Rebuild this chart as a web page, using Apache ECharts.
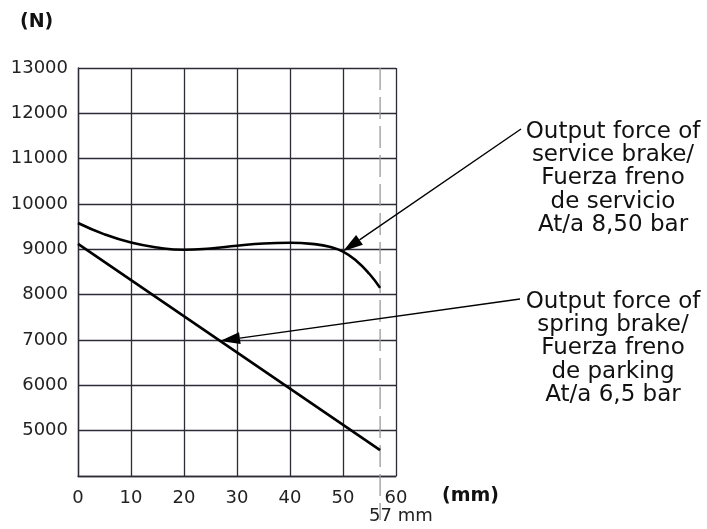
<!DOCTYPE html>
<html><head><meta charset="utf-8">
<script src="https://cdn.jsdelivr.net/npm/echarts@6/dist/echarts.min.js"></script>
<style>html,body{margin:0;padding:0;background:#fff}#c{width:707px;height:529px}</style>
</head><body><div id="c"></div>
<script>
// ---- data ----
const xTicks = [0, 10, 20, 30, 40, 50, 60];
const yTicks = [5000, 6000, 7000, 8000, 9000, 10000, 11000, 12000, 13000];
const serviceBrakeX = [0, 5, 10, 15, 20, 25, 30, 35, 40, 45, 47.5, 50, 52.5, 55, 57];
const serviceBrakeY = [9580, 9330, 9150, 9040, 8990, 9020, 9080, 9130, 9145, 9110, 9055, 8950, 8750, 8456, 8150];
const springBrakeX = [0, 57];
const springBrakeY = [9120, 4570];
const strokeLimit = 57;
const strokeLabel = '57 mm';
const yUnit = '(N)';
const xUnit = '(mm)';
const serviceLabel = ['Output force of', 'service brake/', 'Fuerza freno', 'de servicio', 'At/a 8,50 bar'];
const springLabel = ['Output force of', 'spring brake/', 'Fuerza freno', 'de parking', 'At/a 6,5 bar'];
const serviceArrowTip = [50, 8960];
const springArrowTip = [26.8, 6980];

// ---- chart ----
const FONT = '"DejaVu Sans", sans-serif';
const GRID_C = '#2c2c38';
const chart = echarts.init(document.getElementById('c'), null, {renderer: 'canvas'});
const pairs = (xs, ys) => xs.map((x, i) => [x, ys[i]]);

chart.setOption({
  animation: false,
  backgroundColor: '#fff',
  grid: {left: 78, right: 311, top: 68, bottom: 53, containLabel: false},
  xAxis: {
    type: 'value', min: xTicks[0], max: xTicks[xTicks.length - 1], interval: 10,
    axisLine: {show: true, lineStyle: {color: GRID_C, width: 1.3}},
    axisTick: {show: false},
    splitLine: {show: true, lineStyle: {color: GRID_C, width: 1.3}},
    axisLabel: {color: '#222', fontFamily: FONT, fontSize: 18, margin: 13}
  },
  yAxis: {
    type: 'value', min: 4000, max: yTicks[yTicks.length - 1], interval: 1000,
    axisLine: {show: true, lineStyle: {color: GRID_C, width: 1.3}},
    axisTick: {show: false},
    splitLine: {show: true, lineStyle: {color: GRID_C, width: 1.3}},
    axisLabel: {color: '#222', fontFamily: FONT, fontSize: 18, margin: 10,
      formatter: v => yTicks.indexOf(v) >= 0 ? String(v) : ''}
  },
  series: [
    {type: 'line', name: 'service', data: pairs(serviceBrakeX, serviceBrakeY), smooth: 0.5,
      showSymbol: false, lineStyle: {color: '#000', width: 2.6}, z: 5},
    {type: 'line', name: 'spring', data: pairs(springBrakeX, springBrakeY),
      showSymbol: false, lineStyle: {color: '#000', width: 2.6}, z: 5}
  ]
});

function px(p) { return chart.convertToPixel({gridIndex: 0}, p); }
function arrow(from, tipData) {
  const tip = px(tipData);
  const dx = tip[0] - from[0], dy = tip[1] - from[1];
  const L = Math.sqrt(dx * dx + dy * dy);
  const ux = dx / L, uy = dy / L;
  const len = 20, hw = 6;
  const bx = tip[0] - ux * len, by = tip[1] - uy * len;
  return [
    {type: 'line', z: 20, shape: {x1: from[0], y1: from[1], x2: bx, y2: by},
      style: {stroke: '#000', lineWidth: 1.4}},
    {type: 'polygon', z: 20, shape: {points: [tip, [bx - uy * hw, by + ux * hw], [bx + uy * hw, by - ux * hw]]},
      style: {fill: '#000'}}
  ];
}
const topPx = px([0, 13000])[1];
const xLim = px([strokeLimit, 4000])[0];
const graphics = [
  {type: 'line', z: 3, shape: {x1: xLim, y1: topPx, x2: xLim, y2: 520},
    style: {stroke: '#9a9a9a', lineWidth: 1.3, lineDash: [22, 7]}},
  {type: 'text', left: 20, top: 13, style: {text: yUnit, font: 'bold 19px ' + FONT, fill: '#111'}},
  {type: 'text', left: 442, top: 487, style: {text: xUnit, font: 'bold 19px ' + FONT, fill: '#111'}},
  {type: 'text', left: 369, top: 507, style: {text: strokeLabel, font: '18px ' + FONT, fill: '#222'}},
  {type: 'text', x: 613, y: 120, style: {text: serviceLabel.join('\n'), font: '23px ' + FONT,
    fill: '#111', align: 'center', verticalAlign: 'top', lineHeight: 23.3}},
  {type: 'text', x: 613, y: 290, style: {text: springLabel.join('\n'), font: '23px ' + FONT,
    fill: '#111', align: 'center', verticalAlign: 'top', lineHeight: 23.3}}
].concat(arrow([521, 129], serviceArrowTip), arrow([520, 299], springArrowTip));
chart.setOption({graphic: graphics});
</script></body></html>
